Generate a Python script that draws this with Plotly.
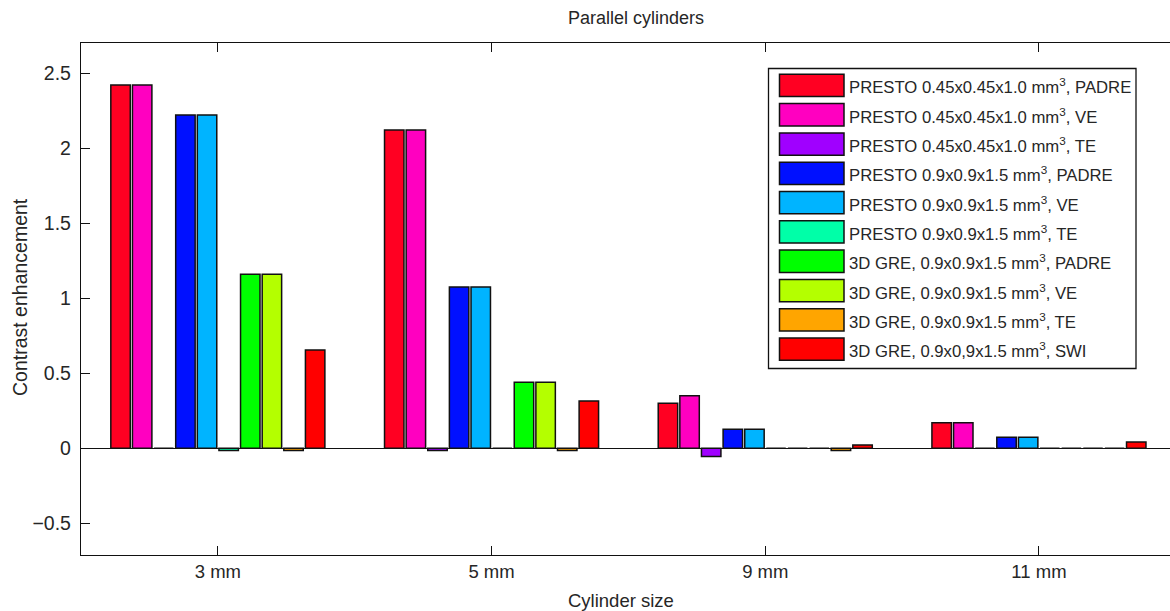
import plotly.graph_objects as go

# Cylinder sizes on the x axis
categories = ["3 mm", "5 mm", "9 mm", "11 mm"]

# Series names (legend text)
series_names = [
    "PRESTO 0.45x0.45x1.0 mm<sup>3</sup>, PADRE",
    "PRESTO 0.45x0.45x1.0 mm<sup>3</sup>, VE",
    "PRESTO 0.45x0.45x1.0 mm<sup>3</sup>, TE",
    "PRESTO 0.9x0.9x1.5 mm<sup>3</sup>, PADRE",
    "PRESTO 0.9x0.9x1.5 mm<sup>3</sup>, VE",
    "PRESTO 0.9x0.9x1.5 mm<sup>3</sup>, TE",
    "3D GRE, 0.9x0.9x1.5 mm<sup>3</sup>, PADRE",
    "3D GRE, 0.9x0.9x1.5 mm<sup>3</sup>, VE",
    "3D GRE, 0.9x0.9x1.5 mm<sup>3</sup>, TE",
    "3D GRE, 0.9x0,9x1.5 mm<sup>3</sup>, SWI",
]

# Contrast enhancement per series, one value per cylinder size
presto045_padre = [2.42, 2.12, 0.30, 0.17]
presto045_ve = [2.42, 2.12, 0.35, 0.17]
presto045_te = [0.0, -0.015, -0.055, 0.0]
presto09_padre = [2.22, 1.075, 0.127, 0.073]
presto09_ve = [2.22, 1.075, 0.127, 0.073]
presto09_te = [-0.015, 0.0, 0.0, 0.0]
gre_padre = [1.16, 0.44, 0.0, 0.0]
gre_ve = [1.16, 0.44, 0.0, 0.0]
gre_te = [-0.015, -0.015, -0.015, 0.0]
gre_swi = [0.655, 0.315, 0.022, 0.042]

series_values = [
    presto045_padre, presto045_ve, presto045_te,
    presto09_padre, presto09_ve, presto09_te,
    gre_padre, gre_ve, gre_te, gre_swi,
]

series_colors = [
    "#FF0022", "#FF00C0", "#A000FF", "#0010FF", "#00B4FF",
    "#00FFA8", "#00FF00", "#B4FF00", "#FFA500", "#FF0000",
]

# Y tick positions and labels
y_ticks = [-0.5, 0, 0.5, 1, 1.5, 2, 2.5]
y_ticklabels = ["\u22120.5", "0", "0.5", "1", "1.5", "2", "2.5"]

FONT = "Liberation Sans, Arial, sans-serif"
TEXT = "#262626"
EDGE = "#111111"

W, H = 1170, 611
L, R, T, B = 81, 0, 43, 56
PW, PH = W - L - R, H - T - B


def px_x(px):
    return (px - L) / PW


def px_y(py):
    return (H - B - py) / PH


fig = go.Figure()
for name, vals, col in zip(series_names, series_values, series_colors):
    fig.add_trace(go.Bar(
        x=categories, y=vals, name=name,
        marker=dict(color=col, line=dict(color=EDGE, width=1.5)),
        showlegend=False,
    ))

# Boxed legend with wide swatches, top right of the axes
shapes = []
annotations = []
shapes.append(dict(type="rect", xref="paper", yref="paper",
                   x0=px_x(768.5), x1=px_x(1136), y0=px_y(368.5), y1=px_y(68.5),
                   line=dict(color=EDGE, width=1.3), fillcolor="white", layer="above"))
row0, pitch, sw_h = 74.3, 29.3, 22.3
for i, (name, col) in enumerate(zip(series_names, series_colors)):
    top = row0 + i * pitch
    shapes.append(dict(type="rect", xref="paper", yref="paper",
                       x0=px_x(779.5), x1=px_x(844), y0=px_y(top + sw_h), y1=px_y(top),
                       line=dict(color=EDGE, width=1.5), fillcolor=col, layer="above"))
    annotations.append(dict(xref="paper", yref="paper", x=px_x(847), y=px_y(top + sw_h / 2 + 1),
                            xanchor="left", yanchor="middle", showarrow=False, text=name,
                            font=dict(family=FONT, size=16.7, color=TEXT)))

# Title and axis labels
annotations.append(dict(xref="paper", yref="paper", x=px_x(636), y=px_y(18),
                        xanchor="center", yanchor="middle", showarrow=False,
                        text="Parallel cylinders", font=dict(family=FONT, size=18, color=TEXT)))
annotations.append(dict(xref="paper", yref="paper", x=px_x(621), y=px_y(600),
                        xanchor="center", yanchor="middle", showarrow=False,
                        text="Cylinder size", font=dict(family=FONT, size=18.5, color=TEXT)))
annotations.append(dict(xref="paper", yref="paper", x=px_x(20), y=px_y(297),
                        xanchor="center", yanchor="middle", showarrow=False, textangle=-90,
                        text="Contrast enhancement", font=dict(family=FONT, size=19.5, color=TEXT)))

slot = 273.7  # pixels per category
fig.update_layout(
    width=W, height=H,
    margin=dict(l=L, r=R, t=T, b=B, pad=0),
    paper_bgcolor="white", plot_bgcolor="white",
    barmode="group", bargap=0.21, bargroupgap=0.1,
    font=dict(family=FONT, size=18, color=TEXT),
    shapes=shapes, annotations=annotations,
    xaxis=dict(
        type="category", range=[-0.5, -0.5 + PW / slot],
        showline=True, linecolor=EDGE, linewidth=1.3, mirror="ticks",
        ticks="inside", ticklen=9, tickcolor=EDGE, tickwidth=1.3,
        showgrid=False, zeroline=False,
        tickfont=dict(family=FONT, size=18.5, color=TEXT),
    ),
    yaxis=dict(
        range=[-0.711, 2.70],
        tickvals=y_ticks, ticktext=y_ticklabels,
        showline=True, linecolor=EDGE, linewidth=1.3, mirror=False,
        ticks="inside", ticklen=9, tickcolor=EDGE, tickwidth=1.3,
        showgrid=False, zeroline=True, zerolinecolor=EDGE, zerolinewidth=1.3,
        ticklabelstandoff=5,
        tickfont=dict(family=FONT, size=19.5, color=TEXT),
    ),
)

fig.write_html("out.html")
